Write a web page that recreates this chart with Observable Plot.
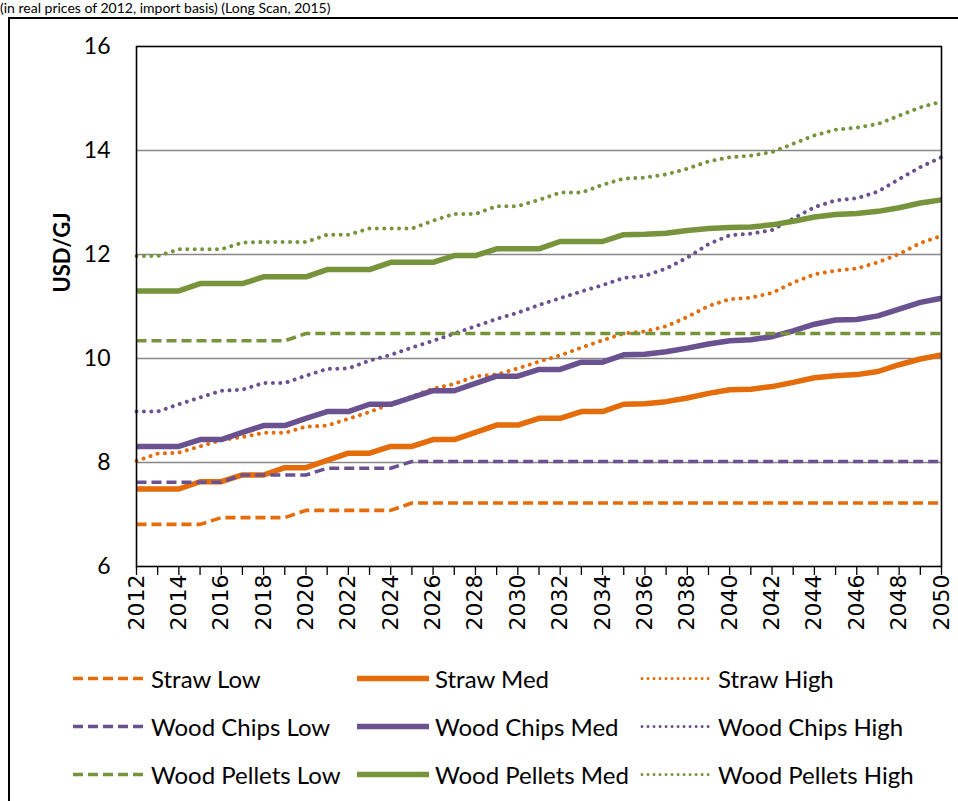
<!DOCTYPE html>
<html><head><meta charset="utf-8">
<script src="https://cdn.jsdelivr.net/npm/d3@7"></script>
<script src="https://cdn.jsdelivr.net/npm/@observablehq/plot@0.6"></script>
<style>
body{margin:0;background:#fff;width:958px;height:801px;overflow:hidden;position:relative;font-family:Lato,sans-serif;color:#000;}
#note{position:absolute;left:0;top:0px;font-size:14px;line-height:15px;white-space:nowrap;font-family:Lato,sans-serif;}
#box{position:absolute;left:8px;top:17px;width:1000px;height:900px;border:2px solid #000;box-sizing:border-box;}
#chart{position:absolute;left:0;top:0;}
#legend{position:absolute;left:0;top:0;width:958px;height:801px;}
.item{position:absolute;display:flex;align-items:center;font-size:24px;transform:translateY(-50%);white-space:nowrap;}
.item svg{margin-right:5px;}
</style></head><body>
<div id="note">(in real prices of 2012, import basis) (Long Scan, 2015)</div>
<div id="box"></div>
<div id="chart"></div>
<div id="legend"></div>
<script>
const years = [2012,2013,2014,2015,2016,2017,2018,2019,2020,2021,2022,2023,2024,2025,2026,2027,2028,2029,2030,
  2031,2032,2033,2034,2035,2036,2037,2038,2039,2040,2041,2042,2043,2044,2045,2046,2047,2048,2049,2050];
const labelYears = [2012,2014,2016,2018,2020,2022,2024,2026,2028,2030,2032,2034,2036,2038,2040,2042,2044,2046,2048,2050];
const yTicks = [6,8,10,12,14,16];
const gridTicks = [8,10,12,14];

const strawLow = [6.81,6.81,6.81,6.81,6.94,6.94,6.94,6.94,7.08,7.08,7.08,7.08,7.08,
  7.22,7.22,7.22,7.22,7.22,7.22,7.22,7.22,7.22,7.22,7.22,7.22,7.22,7.22,7.22,7.22,7.22,7.22,7.22,7.22,7.22,7.22,7.22,7.22,7.22,7.22];
const strawMed = [7.49,7.49,7.49,7.63,7.63,7.76,7.76,7.90,7.90,8.04,8.18,8.18,8.31,8.31,8.44,8.44,8.58,8.72,8.72,
  8.85,8.85,8.98,8.98,9.12,9.13,9.17,9.24,9.33,9.40,9.41,9.46,9.54,9.63,9.67,9.69,9.75,9.88,9.99,10.07];
const strawHigh = [8.03,8.17,8.19,8.31,8.43,8.49,8.57,8.57,8.69,8.71,8.84,8.97,9.13,9.27,9.42,9.51,9.66,9.69,9.81,
  9.94,10.06,10.21,10.35,10.48,10.52,10.62,10.80,11.01,11.14,11.17,11.26,11.46,11.62,11.69,11.73,11.85,12.01,12.22,12.36];
const chipsLow = [7.62,7.62,7.62,7.62,7.62,7.76,7.76,7.76,7.76,7.89,7.89,7.89,7.89,
  8.02,8.02,8.02,8.02,8.02,8.02,8.02,8.02,8.02,8.02,8.02,8.02,8.02,8.02,8.02,8.02,8.02,8.02,8.02,8.02,8.02,8.02,8.02,8.02,8.02,8.02];
const chipsMed = [8.31,8.31,8.31,8.44,8.44,8.58,8.71,8.71,8.85,8.98,8.98,9.12,9.12,9.25,9.38,9.38,9.52,9.66,9.66,
  9.79,9.79,9.93,9.93,10.07,10.08,10.13,10.20,10.28,10.34,10.36,10.42,10.53,10.66,10.74,10.75,10.82,10.95,11.08,11.16];
const chipsHigh = [8.98,8.98,9.12,9.25,9.38,9.40,9.53,9.53,9.67,9.80,9.81,9.96,10.07,10.21,10.34,10.48,10.62,10.76,10.88,
  11.03,11.16,11.29,11.41,11.55,11.59,11.73,11.94,12.20,12.37,12.40,12.47,12.69,12.91,13.04,13.08,13.21,13.45,13.68,13.87];
const pelletsLow = [10.34,10.34,10.34,10.34,10.34,10.34,10.34,10.34,
  10.48,10.48,10.48,10.48,10.48,10.48,10.48,10.48,10.48,10.48,10.48,10.48,10.48,10.48,10.48,10.48,10.48,10.48,10.48,10.48,10.48,10.48,10.48,10.48,10.48,10.48,10.48,10.48,10.48,10.48,10.48];
const pelletsMed = [11.30,11.30,11.30,11.44,11.44,11.44,11.57,11.57,11.57,11.71,11.71,11.71,11.85,11.85,11.85,11.98,11.98,12.11,12.11,12.11,
  12.25,12.25,12.25,12.38,12.39,12.41,12.46,12.50,12.52,12.53,12.57,12.64,12.72,12.77,12.79,12.83,12.90,12.99,13.05];
const pelletsHigh = [11.97,11.97,12.10,12.10,12.10,12.23,12.24,12.24,12.24,12.38,12.38,12.50,12.50,12.50,12.65,12.78,12.78,12.93,12.93,
  13.05,13.19,13.19,13.34,13.46,13.48,13.54,13.65,13.79,13.87,13.90,13.97,14.13,14.29,14.40,14.44,14.51,14.67,14.83,14.94];

const seriesNames = ["Straw Low","Straw Med","Straw High","Wood Chips Low","Wood Chips Med","Wood Chips High","Wood Pellets Low","Wood Pellets Med","Wood Pellets High"];
const seriesValues = [strawLow,strawMed,strawHigh,chipsLow,chipsMed,chipsHigh,pelletsLow,pelletsMed,pelletsHigh];
const colors = {Straw:"#E46C0A", Chips:"#6A5290", Pellets:"#77933C"};
const seriesColors = [colors.Straw,colors.Straw,colors.Straw,colors.Chips,colors.Chips,colors.Chips,colors.Pellets,colors.Pellets,colors.Pellets];
const styles = {
  Low:{strokeWidth:3.6, strokeDasharray:"10,5", strokeLinecap:"butt"},
  Med:{strokeWidth:5.5, strokeDasharray:null, strokeLinecap:"butt"},
  High:{strokeWidth:4, strokeDasharray:"0.01,7.4", strokeLinecap:"round"}
};
const kindOf = n => n.endsWith("Low") ? "Low" : n.endsWith("Med") ? "Med" : "High";

const lineMarks = seriesNames.map((name, si) => {
  const data = years.map((yr, i) => ({year: yr, value: seriesValues[si][i]}));
  const st = styles[kindOf(name)];
  const opts = {x:"year", y:"value", stroke: seriesColors[si], strokeWidth: st.strokeWidth, strokeLinecap: st.strokeLinecap, strokeLinejoin:"round"};
  if (st.strokeDasharray) opts.strokeDasharray = st.strokeDasharray;
  return Plot.line(data, opts);
});

const chart = Plot.plot({
  width: 958, height: 650,
  marginLeft: 136, marginRight: 17, marginTop: 46, marginBottom: 84,
  style: {fontFamily: "Lato, sans-serif", background: "transparent", color: "#000"},
  x: {domain: [2012, 2050], axis: null},
  y: {domain: [6, 16], axis: null},
  marks: [
    Plot.gridY(gridTicks, {stroke: "#878787", strokeOpacity: 1, strokeWidth: 1.5}),
    ...lineMarks,
    Plot.frame({stroke: "#000", strokeWidth: 1.6}),
    Plot.axisY(yTicks, {tickSize: 0, tickPadding: 26, fontSize: 23, label: null, fill: "#000", tickFormat: d => String(d)}),
    Plot.axisX(years, {tickSize: 9, tickFormat: () => "", label: null, stroke: "#000", strokeWidth: 1.3}),
    Plot.text(labelYears, {x: d => d, text: d => String(d), frameAnchor: "bottom", dy: 8, rotate: -90, textAnchor: "end", lineAnchor: "middle", fontSize: 22, fontFamily: "DejaVu Sans", fill: "#000"}),
    Plot.text(["USD/GJ"], {frameAnchor: "left", dx: -74, dy: -54, rotate: -90, textAnchor: "middle", lineAnchor: "middle", fontWeight: "bold", fontSize: 22, fill: "#000"})
  ]
});
document.getElementById("chart").appendChild(chart);

// legend
const legend = document.getElementById("legend");
const colX = [73, 357, 640];
const rowY = [678, 726, 774];
seriesNames.forEach((name, si) => {
  const st = styles[kindOf(name)];
  const k = kindOf(name);
  const div = document.createElement("div");
  div.className = "item";
  div.style.left = colX[si % 3] + "px";
  div.style.top = rowY[Math.floor(si / 3)] + "px";
  const ns = "http://www.w3.org/2000/svg";
  const svg = document.createElementNS(ns, "svg");
  svg.setAttribute("width", 73); svg.setAttribute("height", 12);
  const ln = document.createElementNS(ns, "line");
  ln.setAttribute("x1", k === "High" ? 2 : 0); ln.setAttribute("x2", 72);
  ln.setAttribute("y1", 6); ln.setAttribute("y2", 6);
  ln.setAttribute("stroke", seriesColors[si]);
  ln.setAttribute("stroke-width", k === "High" ? 3 : st.strokeWidth);
  ln.setAttribute("stroke-linecap", st.strokeLinecap);
  if (st.strokeDasharray) ln.setAttribute("stroke-dasharray", k === "High" ? "0.01,6" : st.strokeDasharray);
  svg.appendChild(ln);
  div.appendChild(svg);
  const span = document.createElement("span");
  span.textContent = name;
  div.appendChild(span);
  legend.appendChild(div);
});
</script>
</body></html>
